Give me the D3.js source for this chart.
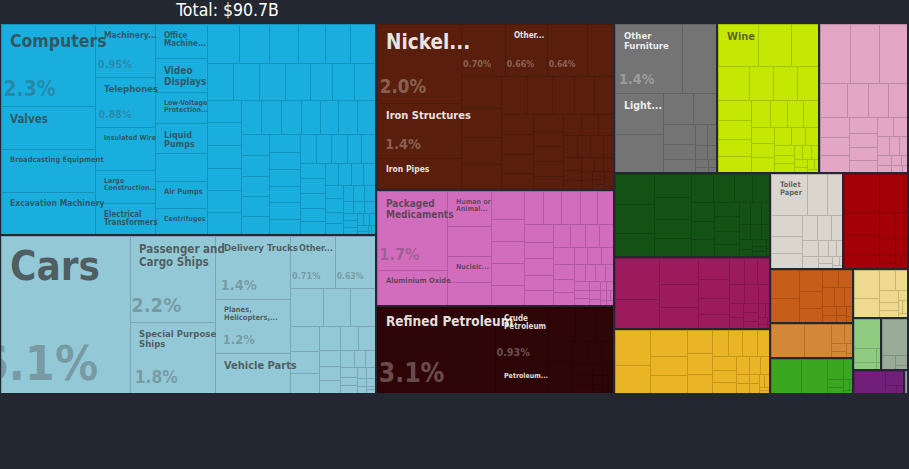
<!DOCTYPE html>
<html><head><meta charset="utf-8">
<script src="https://cdn.jsdelivr.net/npm/d3@7"></script>
<style>
html,body{margin:0;padding:0;background:#232731;}
svg{display:block}
</style></head>
<body>
<svg id="chart" width="909" height="469"></svg>
<script>
// ---------------- DATA (shares of total exports, %) ----------------
const totalLabel = "Total: $90.7B";

const sectionNames = ["Machinery","Transportation","Metals","Chemical Products","Mineral Products",
  "Miscellaneous","Foodstuffs","Animal Hides","Vegetable Products","Textiles","Plastics and Rubbers",
  "Paper Goods","Instruments","Stone And Glass","Wood Products","Animal Products","Animal and Vegetable Bi-Products",
  "Footwear and Headwear","Precious Metals","Weapons","Arts and Antiques"];

const sectionColors = ["#19AEDE","#93C8D6","#5A1F0C","#D26DBE","#2E0506",
  "#747474","#C5E803","#E3A6C5","#135115","#9B1B5C","#EAB524",
  "#DAD6CD","#A30106","#C65D18","#D38838","#3BA620","#EFD98F",
  "#8FCC82","#9AAB98","#711F79","#A597B5"];

const machineryNamed = [["Computers",2.3],["Valves",1.22],["Broadcasting Equipment",1.21],["Excavation Machinery",1.2],
  ["Machinery...",0.95],["Telephones",0.88],["Insulated Wire",0.77],["Large Construction...",0.59],["Electrical Transformers",0.55],
  ["Office Machine...",0.54],["Video Displays",0.54],["Low-Voltage Protection...",0.49],["Liquid Pumps",0.47],["",0.44],["Air Pumps",0.43],["Centrifuges",0.41]];
const machineryOther = [0.37,0.36,0.34,0.31,0.30,0.29,0.28,0.28,0.28,0.27,0.24,0.24,0.23,0.23,0.23,0.23,0.22,0.22,0.22,0.21,0.21,0.20,0.20,0.19,0.19,0.19,0.18,0.18,0.17,0.17,0.16,0.16,0.16,0.15,0.15,0.15,0.14,0.14,0.13,0.13,0.12,0.12,0.12,0.11,0.11,0.10,0.10,0.09,0.09,0.08,0.08,0.07,0.07,0.06,0.06,0.05,0.05,0.05,0.04,0.04,0.04,0.03,0.03,0.03,0.02,0.02,0.02,0.02,0.01,0.01,0.01];

const transportNamed = [["Cars",6.1],["Passenger and Cargo Ships",2.2],["Special Purpose Ships",1.8],["Delivery Trucks",1.4],
  ["Planes, Helicopters,...",1.2],["Vehicle Parts",0.9],["Other...",0.71],["",0.63]];
const transportOther = [0.38,0.30,0.28,0.22,0.20,0.18,0.15,0.13,0.12,0.10,0.09,0.08,0.07,0.06,0.05,0.05,0.04,0.04,0.03,0.03,0.02,0.02,0.02,0.01,0.01];

const metalsNamed = [["Nickel...",2.0],["Iron Structures",1.4],["Iron Pipes",0.78],["",0.70],["Other...",0.66],["",0.64],["",0.41]];
const metalsOther = [0.38,0.36,0.33,0.31,0.29,0.27,0.25,0.23,0.21,0.20,0.19,0.18,0.16,0.15,0.14,0.13,0.13,0.12,0.12,0.11,0.10,0.09,0.09,0.08,0.07,0.07,0.06,0.05,0.05,0.04,0.04,0.03,0.03,0.03,0.02,0.02,0.02,0.01,0.01,0.01];

const chemicalsNamed = [["Packaged Medicaments",1.68],["Aluminium Oxide",0.73],["Human or Animal...",0.47],["",0.40],["Nucleic...",0.35],["",0.30]];
const chemicalsOther = [0.27,0.22,0.22,0.21,0.20,0.19,0.18,0.18,0.17,0.16,0.16,0.15,0.15,0.14,0.13,0.12,0.11,0.10,0.10,0.10,0.09,0.08,0.08,0.07,0.07,0.06,0.06,0.05,0.05,0.04,0.04,0.04,0.03,0.03,0.03,0.02,0.02,0.02,0.02,0.01,0.01,0.01,0.01];

const mineralNamed = [["Refined Petroleum",3.1],["Crude Petroleum",0.93],["Petroleum...",0.45]];
const mineralOther = [0.28,0.22,0.18,0.15,0.13,0.11,0.10,0.09,0.08,0.07,0.06,0.05,0.04,0.04,0.03,0.03,0.02,0.02,0.01,0.01];

const miscNamed = [["Other Furniture",1.4],["",0.72],["Light...",0.6],["",0.55]];
const miscOther = [0.28,0.22,0.20,0.15,0.12,0.08,0.06,0.05,0.04,0.03,0.02,0.02,0.01];

const foodNamed = [["Wine",0.51]];
const foodOther = [0.42,0.35,0.32,0.25,0.25,0.22,0.20,0.19,0.17,0.16,0.15,0.14,0.13,0.12,0.11,0.10,0.10,0.09,0.08,0.07,0.06,0.05,0.05,0.04,0.04,0.03,0.03,0.02,0.02,0.01,0.01];

const hidesOther = [0.55,0.52,0.50,0.28,0.22,0.21,0.20,0.18,0.16,0.15,0.13,0.12,0.11,0.10,0.09,0.08,0.07,0.06,0.05,0.04,0.03,0.03,0.02,0.02,0.01];
const vegetableOther = [0.36,0.35,0.27,0.26,0.25,0.22,0.20,0.19,0.18,0.16,0.15,0.14,0.13,0.12,0.11,0.11,0.10,0.09,0.08,0.07,0.06,0.05,0.05,0.04,0.04,0.03,0.03,0.02,0.02,0.01,0.01];
const textilesOther = [0.55,0.39,0.31,0.28,0.25,0.20,0.18,0.15,0.13,0.12,0.10,0.10,0.09,0.08,0.07,0.06,0.05,0.04,0.04,0.03,0.03,0.02,0.02,0.01,0.01];
const plasticsOther = [0.38,0.30,0.29,0.22,0.20,0.18,0.16,0.15,0.13,0.12,0.12,0.10,0.10,0.09,0.08,0.07,0.06,0.05,0.04,0.04,0.03,0.03,0.02,0.02,0.01,0.01];
const paperNamed = [["Toilet Paper",0.46]];
const paperOther = [0.26,0.20,0.19,0.16,0.14,0.12,0.10,0.09,0.08,0.06,0.05,0.04,0.03,0.03,0.02,0.02,0.01,0.01];
const instrumentsOther = [0.42,0.33,0.25,0.20,0.15,0.12,0.10,0.08,0.06,0.04,0.03,0.02,0.02,0.01];
const stoneOther = [0.25,0.20,0.15,0.12,0.10,0.09,0.08,0.07,0.06,0.05,0.04,0.03,0.03,0.02,0.02,0.01];
const woodOther = [0.35,0.30,0.08,0.05,0.04,0.03,0.02,0.01];
const animalOther = [0.32,0.28,0.10,0.06,0.04,0.03,0.02,0.01,0.01];
const byProductsOther = [0.22,0.15,0.10,0.08,0.07,0.05,0.04,0.03,0.02,0.02,0.01];
const footwearOther = [0.25,0.10,0.05,0.02,0.01];
const preciousOther = [0.30,0.06,0.04,0.02];
const weaponsOther = [0.22,0.08,0.03,0.02];
const artsOther = [0.02,0.01];

const sectionNamed = [machineryNamed,transportNamed,metalsNamed,chemicalsNamed,mineralNamed,miscNamed,foodNamed,[],[],[],[],paperNamed,[],[],[],[],[],[],[],[],[]];
const sectionOther = [machineryOther,transportOther,metalsOther,chemicalsOther,mineralOther,miscOther,foodOther,hidesOther,vegetableOther,textilesOther,plasticsOther,paperOther,instrumentsOther,stoneOther,woodOther,animalOther,byProductsOther,footwearOther,preciousOther,weaponsOther,artsOther];

// ---------------- BUILD ----------------
const W = 909, H = 469, BG = "#232731";
const FONT = "'DejaVu Sans Condensed','DejaVu Sans',sans-serif";

const tree = {name:"root", children: sectionNames.map((n,i)=>({
  name:n, color:sectionColors[i],
  children:[...sectionNamed[i].map(([nm,v])=>({name:nm,value:v,labeled:true})),
            ...sectionOther[i].map(v=>({name:"",value:v,labeled:false}))]
}))};

const root = d3.hierarchy(tree).sum(d=>d.children?0:d.value).sort((a,b)=>b.value-a.value);
d3.treemap().tile(d3.treemapSquarify).size([906,369])
  .paddingInner(n=>n.depth===0?2:0).round(true)(root);

const svg = d3.select("#chart");
svg.append("rect").attr("width",W).attr("height",H).attr("fill",BG);
svg.append("text").attr("x",227.5).attr("y",16).attr("text-anchor","middle")
  .attr("font-family",FONT).attr("font-size",17.5).attr("fill","#ffffff").text(totalLabel);

const defs = svg.append("defs");
const plot = svg.append("g").attr("transform","translate(1,24)");

const ctx = document.createElement("canvas").getContext("2d");
function tw(t,fs){ ctx.font = `bold ${fs}px ${FONT}`; return ctx.measureText(t).width; }
function wrap(text,fs,maxW){
  const words=text.split(" "); const lines=[]; let cur="";
  for(const w of words){ const t=cur?cur+" "+w:w; if(!cur||tw(t,fs)<=maxW) cur=t; else {lines.push(cur); cur=w;} }
  if(cur) lines.push(cur); return lines;
}
function fitName(text,w,h){
  const maxW=(w-18)*1.3;
  for(let fs=40;fs>=7;fs-=0.5){ const L=wrap(text,fs,maxW); if(L.every(l=>tw(l,fs)<=maxW)&&L.length*fs*1.15<=h*0.32) return {fs,lines:L}; }
  for(let fs=12;fs>=7;fs-=0.5){ const L=wrap(text,fs,maxW); if(L.length<=2&&L.every(l=>tw(l,fs)<=maxW)&&L.length*fs*1.15<=h*0.7) return {fs,lines:L}; }
  const L=wrap(text,7,maxW*1.3); return {fs:7,lines:L.slice(0,Math.max(1,Math.floor((h-6)/7.7)))};
}
function lum(c){ const r=d3.rgb(c); const f=v=>{v/=255;return v<=0.03928?v/12.92:Math.pow((v+0.055)/1.055,2.4);}; return 0.2126*f(r.r)+0.7152*f(r.g)+0.0722*f(r.b); }
const fmt = d3.format(".2r");

root.children.forEach((sec,i)=>{
  const id="secclip"+i;
  defs.append("clipPath").attr("id",id).append("rect")
    .attr("x",sec.x0).attr("y",sec.y0).attr("width",sec.x1-sec.x0).attr("height",sec.y1-sec.y0);
  const g = plot.append("g").attr("clip-path",`url(#${id})`);
  const color = sec.data.color;
  const stroke = d3.color(color).darker(0.5).formatHex();
  const light = lum(color) > 0.2;
  g.selectAll("rect").data(sec.leaves()).join("rect")
    .attr("x",d=>d.x0).attr("y",d=>d.y0)
    .attr("width",d=>Math.max(0,d.x1-d.x0)).attr("height",d=>Math.max(0,d.y1-d.y0))
    .attr("fill",color).attr("stroke",stroke).attr("stroke-width",1).attr("shape-rendering","crispEdges");

  const nameFill = light ? "#3a3a3a" : "#ffffff";
  const nameOp = light ? 0.75 : 0.88;
  const pctFill = light ? "#444444" : "#ffffff";
  const pctOp = light ? 0.35 : 0.3;

  sec.leaves().filter(d=>d.data.labeled).forEach(d=>{
    const w=d.x1-d.x0, h=d.y1-d.y0;
    let blockH=0;
    if(d.data.name){
      const f=fitName(d.data.name,w,h);
      blockH=f.lines.length*f.fs*1.1;
      const t=g.append("text").attr("font-family",FONT).attr("font-weight","bold")
        .attr("font-size",f.fs).attr("fill",nameFill).attr("fill-opacity",nameOp);
      f.lines.forEach((l,k)=>t.append("tspan").attr("x",d.x0+9)
        .attr("y",d.y0+6+0.95*f.fs+k*1.1*f.fs).text(l));
    }
    if(w>=38 && h>=45){
      const ptxt=fmt(d.data.value)+"%";
      let fs=Math.min(48,0.0022*w*h+4,(h-blockH-8)*0.8);
      if(fs>=6){
        g.append("text").attr("font-family",FONT).attr("font-weight","bold")
          .attr("font-size",fs).attr("text-anchor","middle")
          .attr("x",d.x0+0.25*w+5).attr("y",d.y1-8-0.1*fs)
          .attr("fill",pctFill).attr("fill-opacity",pctOp).text(ptxt);
      }
    }
  });
});
</script>
</body></html>
